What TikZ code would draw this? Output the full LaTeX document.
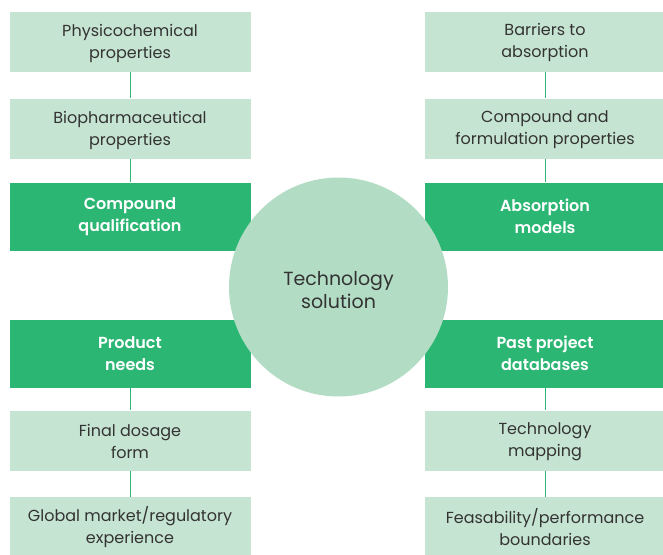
\documentclass[tikz,border=0pt]{standalone}
\usepackage{fontspec}
\setmainfont{Poppins}
\newfontfamily\medfont{Poppins SemiBold}
\definecolor{lightbox}{HTML}{C6E4D2}
\definecolor{darkbox}{HTML}{2CB673}
\definecolor{circfill}{HTML}{B2DDC4}
\definecolor{txt}{HTML}{333333}
\newcommand{\mybox}[6]{%
  \node[#3] (#1) at #2 {};
  \node[#4] (#1t) at ([yshift=#6]#1.center) {#5};}
\begin{document}
\begin{tikzpicture}[x=1pt,y=-1pt,
  lbox/.style={fill=lightbox,draw=none,minimum width=241pt,minimum height=60pt,inner sep=0pt},
  dbox/.style={fill=darkbox,draw=none,minimum width=241pt,minimum height=68pt,inner sep=0pt},
  ltxt/.style={align=center,text=txt,inner sep=0pt,font=\fontsize{16}{22}\selectfont},
  dtxt/.style={align=center,text=white,inner sep=0pt,font=\fontsize{16}{22}\selectfont\medfont},
  conn/.style={draw=darkbox,line width=0.8pt}]
\useasboundingbox (0,0) rectangle (663,554);
% left column
\mybox{l1}{(130,41.5)}{lbox}{ltxt}{Physicochemical\\properties}{-1.5pt}
\mybox{l2}{(130,128.5)}{lbox}{ltxt}{Biopharmaceutical\\properties}{-1.5pt}
\mybox{l3}{(130,216.5)}{dbox}{dtxt}{Compound\\qualification}{-0.5pt}
\mybox{l4}{(130,353.5)}{dbox}{dtxt}{Product\\needs}{0pt}
\mybox{l5}{(130,440.5)}{lbox}{ltxt}{Final dosage\\form}{-0.5pt}
\mybox{l6}{(130,526)}{lbox,minimum height=58pt}{ltxt}{Global market/regulatory\\experience}{-1.5pt}
% right column
\mybox{r1}{(545,41.5)}{lbox,minimum width=240pt}{ltxt}{Barriers to\\absorption}{-1pt}
\mybox{r2}{(545,128.5)}{lbox,minimum width=240pt}{ltxt}{Compound and\\formulation properties}{-1.5pt}
\mybox{r3}{(545,216.5)}{dbox,minimum width=240pt}{dtxt}{Absorption\\models}{0pt}
\mybox{r4}{(545,353.5)}{dbox,minimum width=240pt}{dtxt}{Past project\\databases}{0pt}
\mybox{r5}{(545,440.5)}{lbox,minimum width=240pt}{ltxt}{Technology\\mapping}{-1pt}
\mybox{r6}{(545,526)}{lbox,minimum width=240pt,minimum height=58pt}{ltxt}{Feasability/performance\\boundaries}{-1.5pt}
% connectors
\draw[conn] (l1.south) -- (l2.north);
\draw[conn] (l2.south) -- (l3.north);
\draw[conn] (l4.south) -- (l5.north);
\draw[conn] (l5.south) -- (l6.north);
\draw[conn] (r1.south) -- (r2.north);
\draw[conn] (r2.south) -- (r3.north);
\draw[conn] (r4.south) -- (r5.north);
\draw[conn] (r5.south) -- (r6.north);
% circle
\node[circle,fill=circfill,draw=none,minimum size=219pt,inner sep=0pt] (c) at (338.5,287) {};
\node[align=center,text=txt,inner sep=0pt,font=\fontsize{19}{23}\selectfont] (ct) at ([yshift=-3pt]c.center) {Technology\\solution};
\end{tikzpicture}
\end{document}
